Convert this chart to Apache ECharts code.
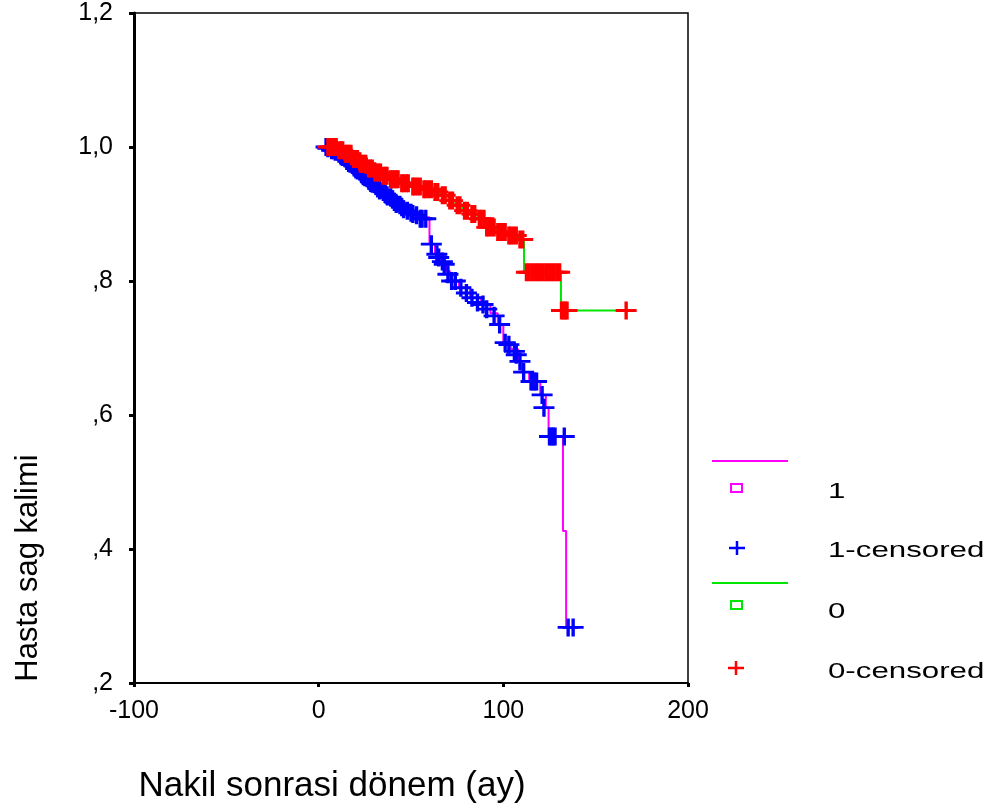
<!DOCTYPE html>
<html>
<head>
<meta charset="utf-8">
<script src="https://cdn.jsdelivr.net/npm/echarts@6/dist/echarts.min.js"></script>
<style>
html,body{margin:0;padding:0;background:#fff;}
#chart{width:993px;height:809px;}
</style>
</head>
<body>
<div id="chart"></div>
<script>
// ---- data ----
var xTicks = [-100, 0, 100, 200];
var yTicks = [0.2, 0.4, 0.6, 0.8, 1.0, 1.2];
var yTickLabels = [',2', ',4', ',6', ',8', '1,0', '1,2'];
var legendLabels = ['1', '1-censored', '0', '0-censored'];
var xTitle = 'Nakil sonrasi dönem (ay)';
var yTitle = 'Hasta sag kalimi';

// group 1: survival step points [time, survival]
var group1Steps = [
  [2, 1.0], [6, 0.995], [10, 0.99], [14, 0.982], [18, 0.972], [22, 0.962],
  [26, 0.952], [30, 0.942], [34, 0.933], [38, 0.925], [43, 0.913], [49, 0.902],
  [54, 0.895], [60, 0.855], [63, 0.84], [66, 0.829], [69, 0.815], [71, 0.80],
  [76, 0.79], [82, 0.775], [88, 0.765], [93, 0.752], [97, 0.735], [100, 0.708],
  [104, 0.698], [108, 0.68], [110, 0.664], [114, 0.65], [120, 0.63], [123, 0.611],
  [124.5, 0.568], [132.3, 0.427], [134, 0.283], [137.8, 0.283]
];
// group 1 censored observations [time, survival]
var group1Censored = [
  [4, 1.0], [5, 0.998], [7, 0.995], [8, 0.995], [9, 0.993], [11, 0.99], [12, 0.988],
  [13, 0.985], [15, 0.982], [16, 0.98], [17, 0.975], [19, 0.972], [20, 0.968],
  [21, 0.965], [23, 0.962], [24, 0.958], [25, 0.955], [27, 0.952], [28, 0.948],
  [29, 0.945], [31, 0.942], [32, 0.938], [33, 0.935], [35, 0.933], [36, 0.93],
  [37, 0.928], [39, 0.925], [40, 0.922], [41, 0.918], [42, 0.915], [44, 0.913],
  [45, 0.91], [46, 0.907], [48, 0.905], [50, 0.902], [51, 0.9], [53, 0.898],
  [55, 0.893], [56, 0.893], [58, 0.893], [61, 0.855], [64, 0.84], [65, 0.835],
  [67, 0.829], [68, 0.825], [70, 0.81], [72, 0.80], [74, 0.80], [77, 0.79],
  [80, 0.782], [83, 0.775], [86, 0.768], [89, 0.765], [91, 0.758], [95, 0.748],
  [98, 0.735], [101, 0.708], [103, 0.705], [106, 0.695], [107, 0.69], [109, 0.68],
  [111, 0.664], [115, 0.65], [116, 0.65], [117, 0.65], [118, 0.65], [121, 0.63],
  [122, 0.611], [125, 0.568], [126, 0.568], [127, 0.568], [128, 0.568], [133, 0.568],
  [135.1, 0.283], [137.8, 0.283]
];
// group 0: survival step points
var group0Steps = [
  [4, 1.0], [10, 0.995], [14, 0.99], [18, 0.982], [22, 0.975], [26, 0.968],
  [30, 0.962], [34, 0.957], [38, 0.952], [44, 0.946], [50, 0.941], [56, 0.937],
  [62, 0.933], [66, 0.928], [70, 0.92], [74, 0.913], [78, 0.905], [82, 0.9],
  [86, 0.893], [90, 0.88], [96, 0.873], [102, 0.868], [108, 0.862], [111.2, 0.813],
  [131.2, 0.756], [166.5, 0.756]
];
// group 0 censored observations
var group0Censored = [
  [5, 1.0], [6.5, 1.0], [7.5, 1.0], [8.5, 1.0], [9.5, 1.0], [11, 0.995], [12, 0.995],
  [13, 0.995], [14.5, 0.99], [15.5, 0.99], [16.5, 0.99], [17.5, 0.99], [19, 0.982],
  [20, 0.982], [21, 0.982], [22.5, 0.975], [23.5, 0.975], [24.5, 0.975], [25.5, 0.975],
  [27, 0.968], [28, 0.968], [29, 0.968], [30.5, 0.962], [31.5, 0.962], [32.5, 0.962],
  [33.5, 0.962], [35, 0.957], [36, 0.957], [37, 0.957], [39, 0.952], [40, 0.952],
  [41, 0.952], [42, 0.952], [43, 0.952], [45, 0.946], [46, 0.946], [47.5, 0.946],
  [48.5, 0.946], [51, 0.941], [52, 0.941], [53.5, 0.941], [55, 0.941], [57, 0.937],
  [58, 0.937], [59.5, 0.937], [61, 0.937], [63, 0.933], [64.5, 0.933], [67, 0.928],
  [68.5, 0.928], [71, 0.92], [72.5, 0.92], [75, 0.913], [76.5, 0.913], [79, 0.905],
  [80.5, 0.905], [83, 0.9], [84.5, 0.9], [87, 0.893], [88, 0.893], [89.5, 0.893],
  [91, 0.88], [92, 0.88], [93.5, 0.88], [95, 0.88], [97, 0.873], [98, 0.873],
  [99.5, 0.873], [101, 0.873], [103, 0.868], [104, 0.868], [105.5, 0.868], [107, 0.868],
  [109, 0.862], [110.5, 0.862], [112.5, 0.813], [114, 0.813], [115.5, 0.813],
  [117, 0.813], [118.5, 0.813], [120, 0.813], [121.5, 0.813], [123, 0.813],
  [124.5, 0.813], [126, 0.813], [127.5, 0.813], [129, 0.813], [130.5, 0.813],
  [131.5, 0.756], [132.5, 0.756], [133.5, 0.756], [134.5, 0.756], [166.5, 0.756]
];

// ---- styling ----
var C_MAG = '#ff00ff', C_BLUE = '#0000ff', C_GREEN = '#00e600', C_RED = '#ff0000';
var PLUS = 'path://M0,8.4H8.4V0H11.6V8.4H20V11.6H11.6V20H8.4V11.6H0Z';
var FONT = 'Liberation Sans, Arial, sans-serif';

function yFmt(v) {
  for (var i = 0; i < yTicks.length; i++) {
    if (Math.abs(yTicks[i] - v) < 1e-6) return yTickLabels[i];
  }
  return '';
}
function plusGraphic(cx, cy, color) {
  return [
    { type: 'rect', shape: { x: cx - 8, y: cy - 1.25, width: 16, height: 2.5 }, style: { fill: color } },
    { type: 'rect', shape: { x: cx - 1.25, y: cy - 7, width: 2.5, height: 14 }, style: { fill: color } }
  ];
}
function legendText(label, cy) {
  return {
    type: 'text', x: 828, y: cy, scaleX: 1.42, scaleY: 1,
    style: { text: label, x: 0, y: 0, fontSize: 22, fontFamily: FONT, fill: '#000',
             align: 'left', verticalAlign: 'middle' }
  };
}

var graphics = [
  { type: 'line', shape: { x1: 712, y1: 461, x2: 788, y2: 461 }, style: { stroke: C_MAG, lineWidth: 2 } },
  { type: 'rect', shape: { x: 731, y: 484, width: 11, height: 8 }, style: { fill: null, stroke: C_MAG, lineWidth: 2 } },
  legendText(legendLabels[0], 492),
  legendText(legendLabels[1], 551),
  { type: 'line', shape: { x1: 712, y1: 583, x2: 788, y2: 583 }, style: { stroke: C_GREEN, lineWidth: 2 } },
  { type: 'rect', shape: { x: 731, y: 601, width: 11, height: 8 }, style: { fill: null, stroke: C_GREEN, lineWidth: 2 } },
  legendText(legendLabels[2], 612),
  legendText(legendLabels[3], 672)
].concat(plusGraphic(737, 548, C_BLUE)).concat(plusGraphic(736, 668, C_RED));

var chart = echarts.init(document.getElementById('chart'));
var option = {
  animation: false,
  backgroundColor: '#fff',
  grid: {
    left: 134, right: 305, top: 13, bottom: 122,
    show: true, borderColor: '#000', borderWidth: 1.5, backgroundColor: 'transparent'
  },
  xAxis: {
    type: 'value', min: xTicks[0], max: xTicks[xTicks.length - 1], interval: 100,
    splitLine: { show: false },
    axisLine: { show: true, onZero: false, lineStyle: { color: '#000', width: 2 } },
    axisTick: { show: true, length: 4, lineStyle: { color: '#000', width: 3 } },
    axisLabel: { color: '#000', fontSize: 25, fontFamily: FONT, margin: 16 },
    name: xTitle, nameLocation: 'middle', nameGap: 86,
    nameTextStyle: { color: '#000', fontSize: 35, fontFamily: FONT, padding: [0, 158, 0, 0] }
  },
  yAxis: {
    type: 'value', min: yTicks[0], max: yTicks[yTicks.length - 1], interval: 0.2,
    splitLine: { show: false },
    axisLine: { show: true, onZero: false, lineStyle: { color: '#000', width: 3 } },
    axisTick: { show: true, length: 5, lineStyle: { color: '#000', width: 3 } },
    axisLabel: { color: '#000', fontSize: 25, fontFamily: FONT, margin: 21, formatter: yFmt },
    name: yTitle, nameLocation: 'middle', nameGap: 90,
    nameTextStyle: { color: '#000', fontSize: 31, fontFamily: FONT, padding: [0, 440, 0, 0] }
  },
  series: [
    {
      name: legendLabels[0], type: 'line', step: 'end', data: group1Steps,
      showSymbol: false, lineStyle: { color: C_MAG, width: 2 }, z: 2, silent: true
    },
    {
      name: legendLabels[1], type: 'scatter', data: group1Censored,
      symbol: PLUS, symbolSize: [21, 18], itemStyle: { color: C_BLUE, opacity: 1 }, z: 3
    },
    {
      name: legendLabels[2], type: 'line', step: 'end', data: group0Steps,
      showSymbol: false, lineStyle: { color: C_GREEN, width: 2 }, z: 4, silent: true
    },
    {
      name: legendLabels[3], type: 'scatter', data: group0Censored,
      symbol: PLUS, symbolSize: [21, 18], itemStyle: { color: C_RED, opacity: 1 }, z: 5
    }
  ],
  graphic: graphics
};
chart.setOption(option);
</script>
</body>
</html>
